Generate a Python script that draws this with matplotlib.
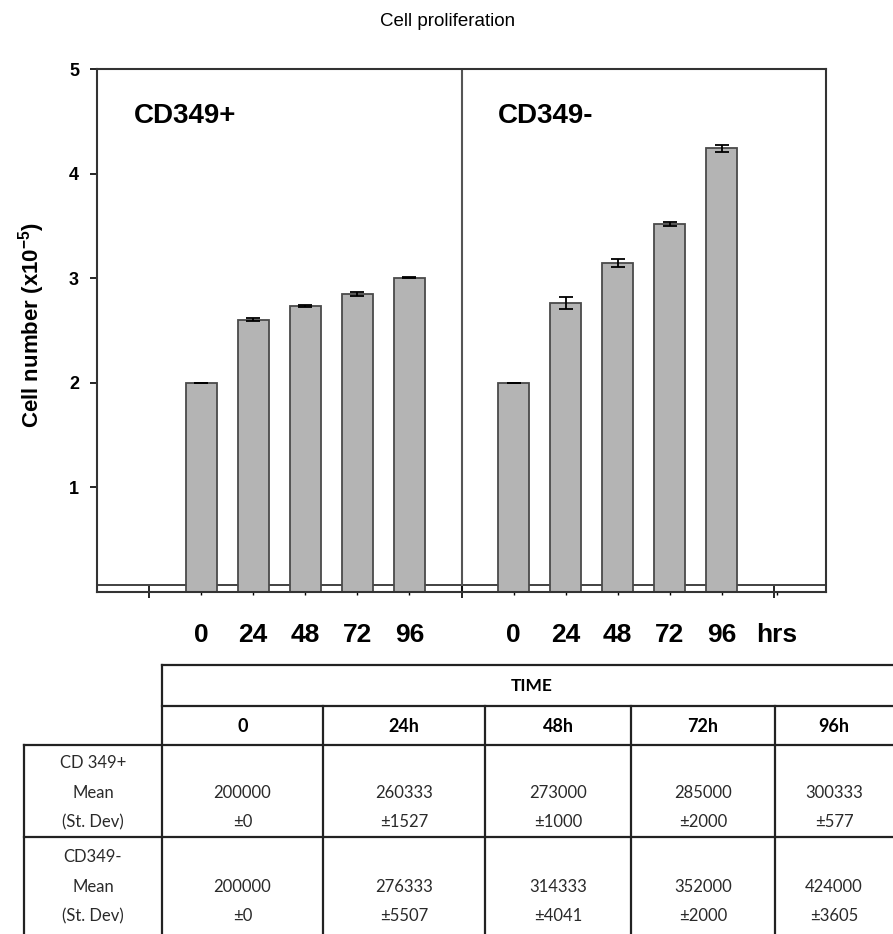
import matplotlib
matplotlib.use("Agg")
import matplotlib.pyplot as plt
import numpy as np

plt.rcParams['font.family'] = ['Liberation Sans', 'DejaVu Sans']
plt.rcParams['mathtext.fontset'] = 'custom'
plt.rcParams['mathtext.rm'] = 'Liberation Sans'
plt.rcParams['mathtext.bf'] = 'Liberation Sans:bold'

# data (cells, from the table)
times = ['0', '24', '48', '72', '96']
time_heads = ['0', '24h', '48h', '72h', '96h']
pos_mean = [200000, 260333, 273000, 285000, 300333]
pos_sd = [0, 1527, 1000, 2000, 577]
neg_mean = [200000, 276333, 314333, 352000, 424000]
neg_sd = [0, 5507, 4041, 2000, 3605]
groups = ['CD349+', 'CD349-']
row_labels = ['CD 349+\nMean\n(St. Dev)', 'CD349-\nMean\n(St. Dev)']

W, H = 893, 934
fig = plt.figure(figsize=(W / 100, H / 100), dpi=100)
ax = fig.add_axes([97 / W, 1 - 592 / H, (826 - 97) / W, (592 - 69) / H])

edge = '#4a4a4a'
x_pos = np.arange(2, 7)
x_neg = np.arange(8, 13)
scale = 1e5
ax.bar(x_pos, np.array(pos_mean) / scale, width=0.6, color='#b4b4b4',
       edgecolor=edge, linewidth=1.3, zorder=2)
ax.bar(x_neg, np.array(neg_mean) / scale, width=0.6, color='#b4b4b4',
       edgecolor=edge, linewidth=1.3, zorder=2)
ax.errorbar(x_pos, np.array(pos_mean) / scale, yerr=np.array(pos_sd) / scale,
            fmt='none', ecolor='black', elinewidth=1.3, capsize=5, capthick=1.3, zorder=3)
ax.errorbar(x_neg, np.array(neg_mean) / scale, yerr=np.array(neg_sd) / scale,
            fmt='none', ecolor='black', elinewidth=1.3, capsize=5, capthick=1.3, zorder=3)

ax.axhline(0.067, color='#333333', lw=1.3, zorder=1)
ax.axvline(7, color='#555555', lw=1.5, zorder=1)

ax.set_xlim(0, 14)
ax.set_ylim(0, 5)
for s in ax.spines.values():
    s.set_color('#333333')
    s.set_linewidth(1.5)

ax.set_yticks([1, 2, 3, 4, 5])
ax.set_yticklabels(['1', '2', '3', '4', '5'], fontsize=13, fontweight='bold')
ax.tick_params(axis='y', direction='out', length=5, width=1.2, pad=8)
ax.set_xticks([1, 7, 13])
ax.set_xticklabels([])
ax.tick_params(axis='x', direction='inout', length=8, width=1.2)
ax.set_xticks(list(x_pos) + list(x_neg) + [13.05], minor=True)
ax.set_xticklabels(times + times + ['hrs'], minor=True, fontsize=19, fontweight='bold')
ax.tick_params(axis='x', which='minor', length=2, width=1, pad=20)

ax.set_ylabel(r'Cell number (x10$^{\mathbf{-5}}$)', fontsize=16, fontweight='bold')
ax.yaxis.set_label_coords(-0.068, 0.51)
ax.text(0.7, 4.55, groups[0], fontsize=20, fontweight='bold', va='center')
ax.text(7.7, 4.55, groups[1], fontsize=20, fontweight='bold', va='center')
fig.text(448 / W, 1 - 22 / H, 'Cell proliferation', fontsize=13.5, ha='center', va='center')

# table
tb = fig.add_axes([0, 0, 1, 1])
tb.set_xlim(0, W)
tb.set_ylim(H, 0)
tb.axis('off')
lc = '#222222'
lw = 1.6
tb.plot([162, W], [665, 665], color=lc, lw=lw)
tb.plot([162, W], [706, 706], color=lc, lw=lw)
tb.plot([24, W], [745, 745], color=lc, lw=lw)
tb.plot([24, W], [837, 837], color=lc, lw=lw)
tb.plot([162, 162], [665, H], color=lc, lw=lw)
tb.plot([24, 24], [745, H], color=lc, lw=lw)
col_edges = [162, 323, 485, 631, 775, 920]
for xe in col_edges[1:-1]:
    tb.plot([xe, xe], [706, H], color=lc, lw=lw)

tf = ['Lato', 'DejaVu Sans']
tb.text(532, 686, 'TIME', family=tf, fontsize=12.5, fontweight='bold', ha='center', va='center')
centers = [(col_edges[i] + col_edges[i + 1]) / 2 for i in range(5)]
centers[-1] = 834
for c, h in zip(centers, time_heads):
    tb.text(c, 726, h, family=tf, fontsize=13, fontweight='bold', ha='center', va='center')

for r, (lab, means, sds) in enumerate([(row_labels[0], pos_mean, pos_sd),
                                       (row_labels[1], neg_mean, neg_sd)]):
    y0 = 763 + r * 94
    for k, line in enumerate(lab.split('\n')):
        tb.text(93, y0 + k * 29.5, line, family=tf, fontsize=12, color='#2a2a2a',
                ha='center', va='center')
    for c, m, s in zip(centers, means, sds):
        tb.text(c, y0 + 29.5, str(m), family=tf, fontsize=12, color='#2a2a2a',
                ha='center', va='center')
        tb.text(c, y0 + 59, '\u00b1' + str(s), family=tf, fontsize=12, color='#2a2a2a',
                ha='center', va='center')

fig.savefig('out.png', dpi=100)
